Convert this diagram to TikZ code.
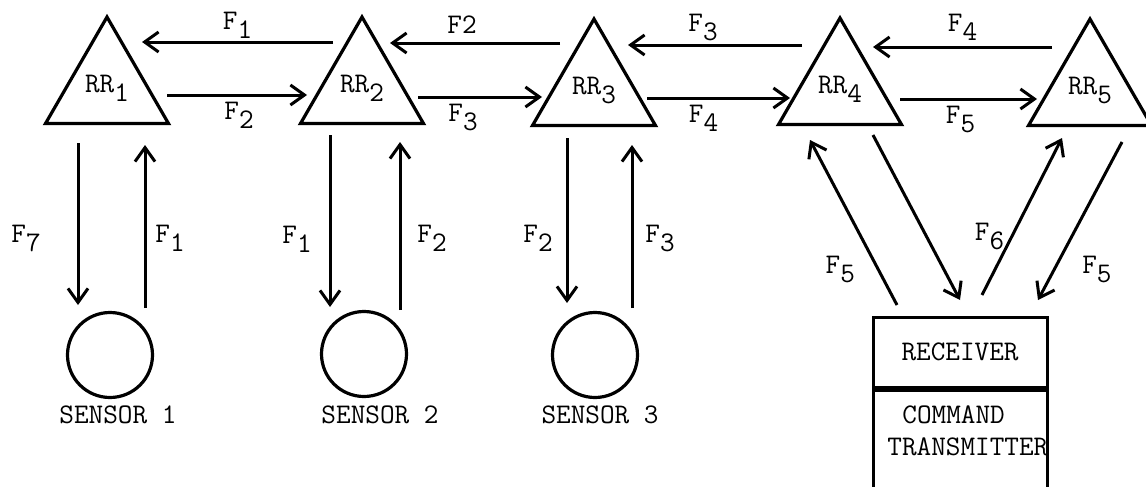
\documentclass[tikz,border=0pt]{standalone}
\usepackage{fontspec}
\usetikzlibrary{shapes.geometric,arrows.meta,calc}
\newcommand\sbs[1]{\raisebox{-4.5pt}{#1}}
\begin{document}
\begin{tikzpicture}[x=0.5pt,y=-0.5pt,
  every node/.style={font=\ttfamily\fontsize{14.2}{16}\selectfont, inner sep=0pt},
  tri/.style={draw, line width=1.6pt, regular polygon, regular polygon sides=3, minimum size=71pt},
  sens/.style={draw, line width=1.6pt, circle, minimum size=42.5pt},
  boxn/.style={draw, line width=1.5pt, rectangle, minimum width=87pt},
  arr/.style={line width=1.5pt, -{Straight Barb[length=7pt,width=10pt]}}]
\useasboundingbox (0,0) rectangle (1146,487);
\clip (0,0) rectangle (1146,487);
\fill[white] (0,0) rectangle (1146,487);

% repeaters
\node[tri] (rr1) at (107,88) {RR\sbs{1}};
\node[tri] (rr2) at (362,88) {RR\sbs{2}};
\node[tri] (rr3) at (594,90) {RR\sbs{3}};
\node[tri] (rr4) at (840,89) {RR\sbs{4}};
\node[tri] (rr5) at (1090,90) {RR\sbs{5}};

% sensors
\node[sens] (s1) at (110,355) {};
\node[sens] (s2) at (364,354) {};
\node[sens] (s3) at (595,355) {};
\node (l1) at (118,415) {SENSOR 1};
\node (l2) at (380,415) {SENSOR 2};
\node (l3) at (600,415) {SENSOR 3};

% receiver / command transmitter
\node[boxn, minimum height=35pt] (recv) at (960,352) {RECEIVER};
\node[boxn, minimum height=100pt, anchor=north] (cmd) at (recv.south) {};
\node[align=left, anchor=west] (cmdtxt) at (887,431) {\hspace*{7.5pt}COMMAND\\TRANSMITTER};

% top (leftward) links
\draw[arr] ($(rr2.center)+(-29,-46)$) -- node[midway, yshift=8.5pt] {F\sbs{1}} ($(rr1.center)+(35,-46)$);
\draw[arr] ($(rr3.center)+(-34,-47)$) -- node[midway, xshift=-6.5pt, yshift=9pt] {F2} ($(rr2.center)+(28,-45)$);
\draw[arr] ($(rr4.center)+(-38,-44)$) -- node[midway, xshift=-6pt, yshift=9pt] {F\sbs{3}} ($(rr3.center)+(34,-45)$);
\draw[arr] ($(rr5.center)+(-38,-43)$) -- node[midway, yshift=10pt] {F\sbs{4}} ($(rr4.center)+(33,-42)$);

% bottom (rightward) links
\draw[arr] ($(rr1.center)+(60,7)$) -- node[midway, xshift=1pt, yshift=-10pt] {F\sbs{2}} ($(rr2.center)+(-55,7)$);
\draw[arr] ($(rr2.center)+(56,9)$) -- node[midway, xshift=-8.5pt, yshift=-10pt] {F\sbs{3}} ($(rr3.center)+(-52,7)$);
\draw[arr] ($(rr3.center)+(53,8)$) -- node[midway, xshift=-7.5pt, yshift=-10pt] {F\sbs{4}} ($(rr4.center)+(-50,9)$);
\draw[arr] ($(rr4.center)+(60,10)$) -- node[midway, xshift=-4pt, yshift=-10pt] {F\sbs{5}} ($(rr5.center)+(-53,9)$);

% sensor links
\draw[arr] ($(rr1.center)+(-29,55)$) -- node[midway, xshift=-26pt, yshift=-7pt] {F\sbs{7}} ($(s1.center)+(-32,-50)$);
\draw[arr] ($(s1.center)+(35,-47)$) -- node[midway, xshift=12.5pt, yshift=-6pt] {F\sbs{1}} ($(rr1.center)+(38,57)$);
\draw[arr] ($(rr2.center)+(-32,47)$) -- node[midway, xshift=-16.5pt, yshift=-9pt] {F\sbs{1}} ($(s2.center)+(-34,-47)$);
\draw[arr] ($(s2.center)+(36,-44)$) -- node[midway, xshift=16pt, yshift=-6pt] {F\sbs{2}} ($(rr2.center)+(38,54)$);
\draw[arr] ($(rr3.center)+(-27,48)$) -- node[midway, xshift=-14.5pt, yshift=-9pt] {F\sbs{2}} ($(s3.center)+(-28,-52)$);
\draw[arr] ($(s3.center)+(37,-47)$) -- node[midway, xshift=14pt, yshift=-6pt] {F\sbs{3}} ($(rr3.center)+(38,55)$);

% ground station links
\draw[arr] ($(recv.center)+(-63,-47)$) -- node[pos=0.25, xshift=-17.5pt, yshift=-3pt] {F\sbs{5}} ($(rr4.center)+(-30,51)$);
\draw[arr] ($(rr4.center)+(33,46)$) -- ($(recv.center)+(0,-52)$);
\draw[arr] ($(recv.center)+(22,-57)$) -- node[pos=0.37, xshift=-11pt] {F\sbs{6}} ($(rr5.center)+(-28,48)$);
\draw[arr] ($(rr5.center)+(32,52)$) -- node[pos=0.81, xshift=21.5pt] {F\sbs{5}} ($(recv.center)+(78,-52)$);
\end{tikzpicture}
\end{document}
